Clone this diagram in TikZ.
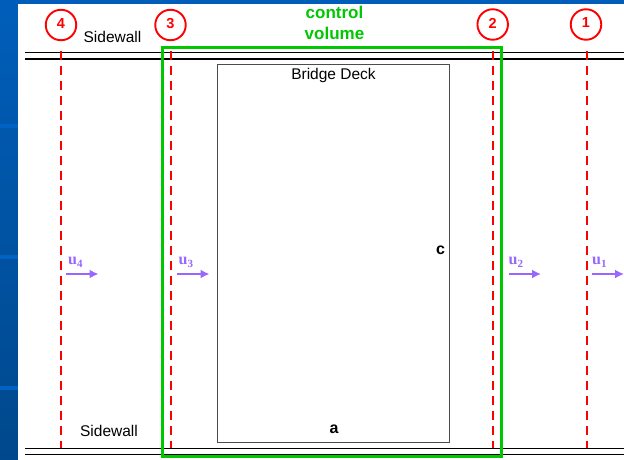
\documentclass[tikz,border=0pt]{standalone}
\usepackage{fontspec}
\setmainfont{Liberation Sans}
\newfontfamily\speedfont{Liberation Serif}
\usetikzlibrary{arrows.meta}
\definecolor{slidedark}{RGB}{0,72,140}
\definecolor{slidetop}{RGB}{0,94,186}
\definecolor{slidebar}{RGB}{0,98,194}
\definecolor{volgreen}{RGB}{0,200,0}
\definecolor{flowpurple}{RGB}{153,102,255}
\tikzset{
  wall/.style={draw=black,line width=1.5pt},
  section/.style={draw=red,line width=2pt,dash pattern=on 9pt off 6pt},
  badge/.style={circle,draw=red,line width=1.9pt,text=red,minimum size=30.5pt,inner sep=0pt,font=\bfseries\fontsize{14.5}{16}\selectfont},
  lbl/.style={inner sep=0pt,font=\fontsize{15.5}{18}\selectfont},
  side/.style={inner sep=0pt,font=\bfseries\fontsize{16}{18}\selectfont},
  flow/.style={draw=flowpurple,line width=1.8pt,-{Latex[length=9pt,width=9pt]}},
  speed/.style={inner sep=0pt,anchor=base west,text=flowpurple,font=\speedfont\bfseries\fontsize{16}{18}\selectfont}
}
\newcommand{\speedlabel}[1]{u\raisebox{-3pt}{\fontsize{11}{12}\selectfont #1}}
\begin{document}
\begin{tikzpicture}[x=1pt,y=-1pt]
\useasboundingbox (0,0) rectangle (624,460);

% slide background
\shade[top color=slidetop,bottom color=slidedark] (0,0) rectangle (18,460);
\fill[slidetop] (0,0) rectangle (624,4);
\foreach \y in {124,255,386}
  \fill[slidebar] (0,\y) rectangle (18,\y+4);
\fill[white] (18,4) rectangle (624,460);

% sidewalls
\draw[wall] (25,52.7) -- (624,52.7);
\draw[wall] (25,59) -- (624,59);
\draw[wall] (25,448.7) -- (624,448.7);
\draw[wall] (25,454.7) -- (624,454.7);

% deck
\node[draw=black!70,line width=0.9pt,minimum width=232.5pt,minimum height=377.5pt,inner sep=0pt] (deck) at (333.4,253.4) {};
\node[lbl,anchor=base] (decktext) at (333.5,79.5) {Bridge Deck};
\node[side] (sidea) at (334,429) {a};
\node[side] (sidec) at (440.5,250.5) {c};
\node[lbl] (wallt) at (112.5,37) {Sidewall};
\node[lbl] (wallb) at (109,431) {Sidewall};

% sections
\coordinate (s4t) at (60.8,51);  \coordinate (s4b) at (60.8,448);
\coordinate (s3t) at (170.8,51); \coordinate (s3b) at (170.8,448);
\coordinate (s2t) at (492.8,51); \coordinate (s2b) at (492.8,448);
\coordinate (s1t) at (586.8,51); \coordinate (s1b) at (586.8,448);
\draw[section] (s4t) -- (s4b);
\draw[section] (s3t) -- (s3b);
\draw[section] (s2t) -- (s2b);
\draw[section] (s1t) -- (s1b);

\node[badge] (c4) at (61,25) {\raisebox{3pt}{4}};
\node[badge] (c3) at (170.5,25) {\raisebox{3pt}{3}};
\node[badge] (c2) at (492.7,24.5) {\raisebox{3pt}{2}};
\node[badge] (c1) at (586,24.5) {\raisebox{3pt}{1}};

% control volume
\draw[volgreen,line width=2.5pt] (162.3,47.3) rectangle (501.3,456.3);
\node[inner sep=0pt,text=volgreen,align=center,font=\bfseries\fontsize{17}{21}\selectfont] (cv) at (334.5,23) {control\\volume};

% velocities
\coordinate (a4) at (66,274);  \coordinate (b4) at (98.5,274);
\coordinate (a3) at (177,274); \coordinate (b3) at (209.5,274);
\coordinate (a2) at (509,274); \coordinate (b2) at (541,274);
\coordinate (a1) at (591.7,274); \coordinate (b1) at (624,274);
\draw[flow] (a4) -- (b4);
\draw[flow] (a3) -- (b3);
\draw[flow] (a2) -- (b2);
\draw[flow] (a1) -- (b1);
\node[speed] (u4) at (68,264.5) {\speedlabel{4}};
\node[speed] (u3) at (178.5,264.5) {\speedlabel{3}};
\node[speed] (u2) at (508.5,264.5) {\speedlabel{2}};
\node[speed] (u1) at (592,264.5) {\speedlabel{1}};

\end{tikzpicture}
\end{document}
